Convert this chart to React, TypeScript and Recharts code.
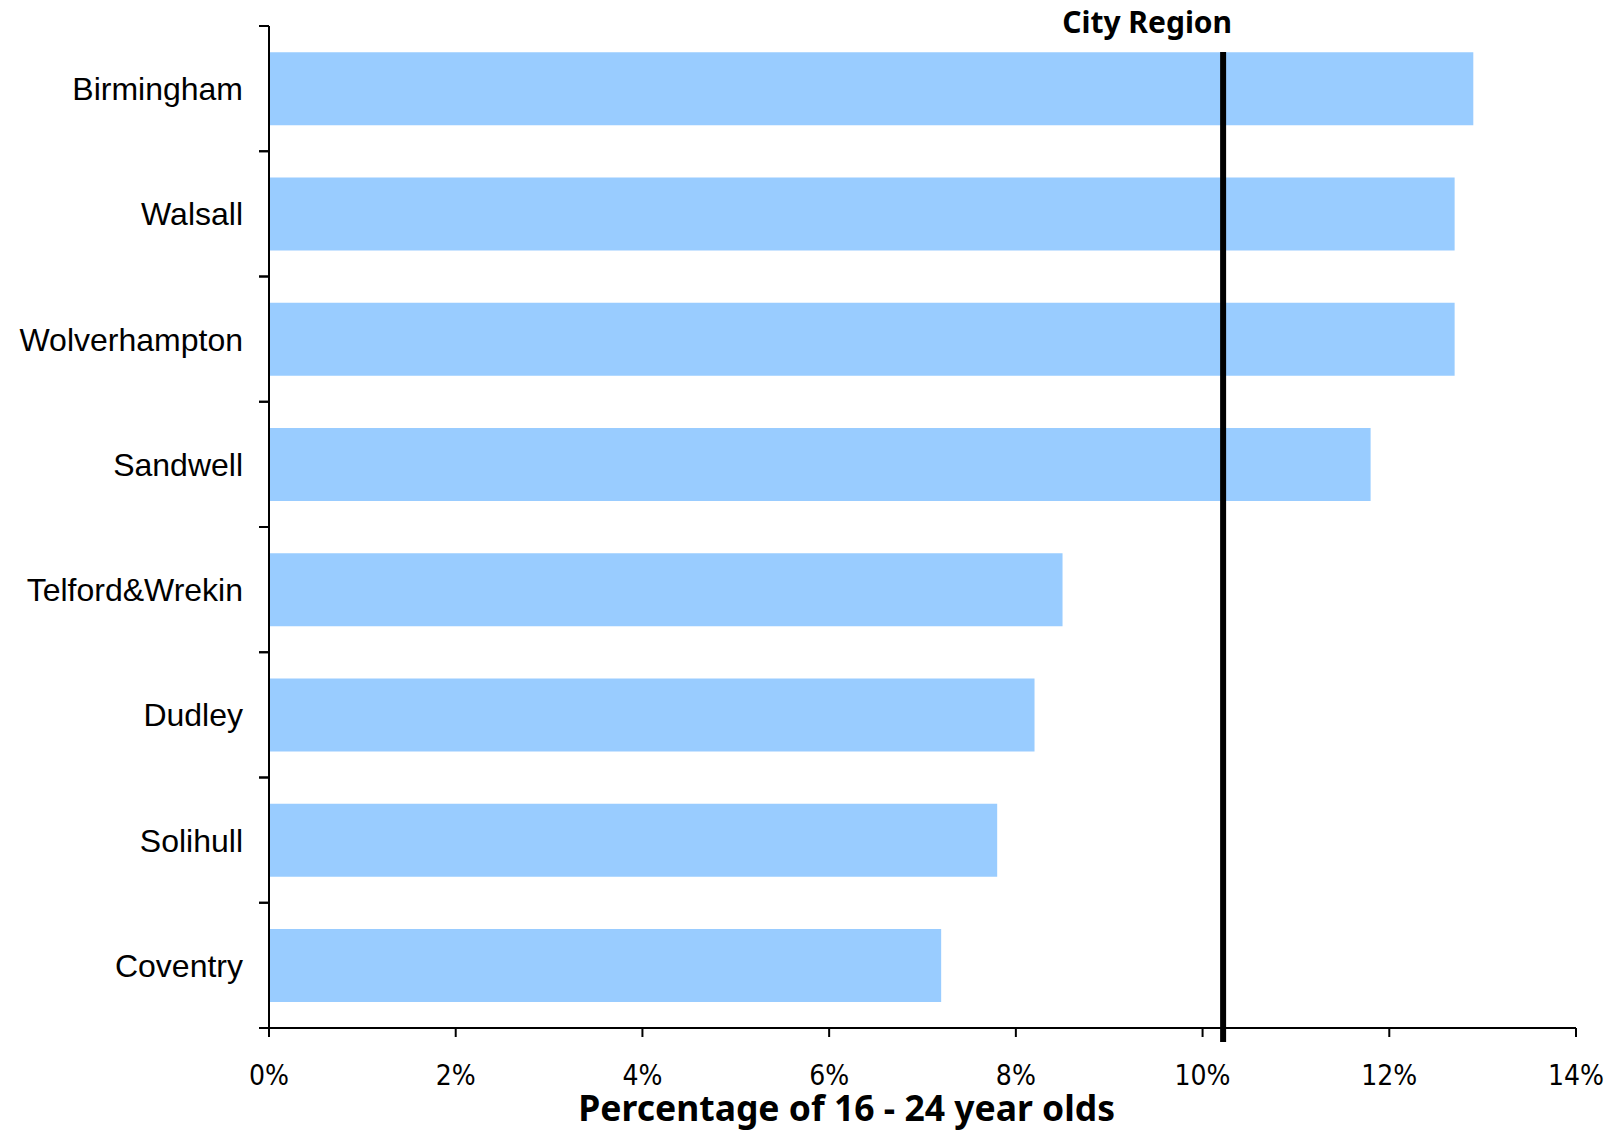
import { BarChart, Bar, XAxis, YAxis, ReferenceLine } from 'recharts';

// % of 16-24 year olds, by local authority
const areas = ['Birmingham', 'Walsall', 'Wolverhampton', 'Sandwell', 'Telford&Wrekin', 'Dudley', 'Solihull', 'Coventry'];
const shares = [12.9, 12.7, 12.7, 11.8, 8.5, 8.2, 7.8, 7.2];
const cityRegion = 10.22;
const xTicks = [0, 2, 4, 6, 8, 10, 12, 14];

const data = areas.map((name, i) => ({ name, value: shares[i] }));

const W = 1622;
const H = 1131;
const AXIS_X = 269;
const TOP = 26;
const X_AXIS_H = 103;
const HALF_BAND = (H - TOP - X_AXIS_H) / areas.length / 2;

const CategoryTick = (props: any) => {
  const { y, payload } = props;
  const half = payload && payload.offset ? payload.offset : HALF_BAND;
  return (
    <g>
      <line x1={AXIS_X - 10} x2={AXIS_X} y1={y - half} y2={y - half} stroke="#000" strokeWidth={2} />
      <line x1={AXIS_X - 10} x2={AXIS_X} y1={y + half} y2={y + half} stroke="#000" strokeWidth={2} />
      <text
        x={243}
        y={y}
        dy="0.36em"
        textAnchor="end"
        fill="#000"
        style={{ fontFamily: '"Liberation Sans", Arial, sans-serif', fontSize: 32 }}
      >
        {payload.value}
      </text>
    </g>
  );
};

const renderXTitle = (props: any) => {
  const vb = props.viewBox || {};
  return (
    <text
      x={vb.x + vb.width * 0.442}
      y={1121}
      textAnchor="middle"
      fill="#000"
      style={{ fontFamily: '"Noto Sans", sans-serif', fontSize: 35.5, fontWeight: 700 }}
    >
      Percentage of 16 - 24 year olds
    </text>
  );
};

const renderCityLabel = (props: any) => {
  const vb = props.viewBox || {};
  return (
    <text
      x={vb.x + 9}
      y={33}
      textAnchor="end"
      fill="#000"
      style={{ fontFamily: '"Noto Sans", sans-serif', fontSize: 30, fontWeight: 700 }}
    >
      City Region
    </text>
  );
};

// line runs from the top of the first bar to just below the x axis
const CityLine = (props: any) => {
  const { x1, x2 } = props;
  return <line x1={x1} x2={x2} y1={TOP + 26} y2={H - X_AXIS_H + 14} stroke="#000" strokeWidth={6} />;
};

export default function App() {
  return (
    <div style={{ position: 'absolute', left: 0, top: 0, background: '#fff' }}>
      <BarChart
        width={W}
        height={H}
        data={data}
        layout="vertical"
        margin={{ top: TOP, right: 46, bottom: 0, left: 0 }}
        barCategoryGap="21%"
      >
        <XAxis
          type="number"
          domain={[0, 14]}
          ticks={xTicks}
          tickFormatter={(v) => `${v}%`}
          height={X_AXIS_H}
          axisLine={{ stroke: '#000', strokeWidth: 2 }}
          tickLine={{ stroke: '#000', strokeWidth: 2 }}
          tickSize={9}
          tickMargin={28}
          tick={{ fill: '#000', fontSize: 28, fontFamily: '"Liberation Sans Narrow", "DejaVu Sans Condensed", sans-serif' }}
          label={renderXTitle}
          allowDataOverflow
        />
        <YAxis
          type="category"
          dataKey="name"
          width={AXIS_X}
          axisLine={{ stroke: '#000', strokeWidth: 2 }}
          tickLine={false}
          tick={<CategoryTick />}
          interval={0}
        />
        <Bar dataKey="value" fill="#99CCFF" isAnimationActive={false} />
        <ReferenceLine x={cityRegion} shape={<CityLine />} label={renderCityLabel} />
      </BarChart>
    </div>
  );
}
